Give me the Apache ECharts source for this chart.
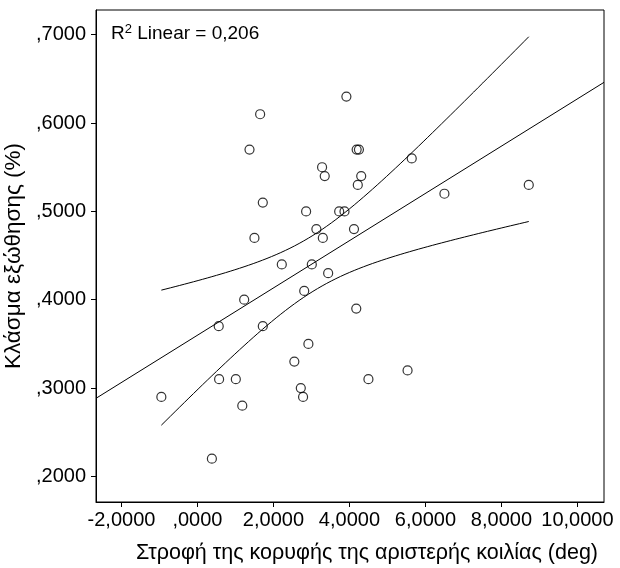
<!DOCTYPE html>
<html>
<head>
<meta charset="utf-8">
<script src="https://cdn.jsdelivr.net/npm/echarts@6/dist/echarts.min.js"></script>
<style>html,body{margin:0;padding:0;background:#fff}#c{width:620px;height:568px}</style>
</head>
<body>
<div id="c"></div>
<script>
// Data
const xValues = [1.65,1.37,3.28,1.72,2.86,3.13,1.50,2.22,3.01,2.81,3.92,4.19,4.25,3.35,4.31,4.22,5.64,8.72,6.50,3.73,3.87,4.12,3.30,3.44,1.23,0.56,1.72,2.92,2.55,0.57,1.01,-0.95,2.72,2.78,1.18,0.38,4.18,5.53,4.50];
const yValues = [0.61,0.57,0.55,0.51,0.50,0.48,0.47,0.44,0.44,0.41,0.63,0.57,0.57,0.54,0.54,0.53,0.56,0.53,0.52,0.50,0.50,0.48,0.47,0.43,0.40,0.37,0.37,0.35,0.33,0.31,0.31,0.29,0.30,0.29,0.28,0.22,0.39,0.32,0.31];
const xTicks = [-2,0,2,4,6,8,10];
const yTicks = [0.2,0.3,0.4,0.5,0.6,0.7];
const xRange = [-2.67, 10.7];
const yRange = [0.171, 0.728];
const r2Label = '0,206';
const tCrit = 2.026;

// Linear regression with 95% mean confidence band
const n = xValues.length;
const mx = xValues.reduce((a,b)=>a+b,0)/n;
const my = yValues.reduce((a,b)=>a+b,0)/n;
let sxx=0, sxy=0;
for (let i=0;i<n;i++){ sxx+=(xValues[i]-mx)**2; sxy+=(xValues[i]-mx)*(yValues[i]-my); }
const b1 = sxy/sxx, b0 = my-b1*mx;
let sse=0;
for (let i=0;i<n;i++){ const e=yValues[i]-(b0+b1*xValues[i]); sse+=e*e; }
const s = Math.sqrt(sse/(n-2));
const xmin = Math.min(...xValues), xmax = Math.max(...xValues);
const upper=[], lower=[];
const steps = 80;
for (let k=0;k<=steps;k++){
  const x = xmin + (xmax-xmin)*k/steps;
  const yh = b0+b1*x;
  const h = tCrit*s*Math.sqrt(1/n + (x-mx)**2/sxx);
  upper.push([x, yh+h]); lower.push([x, yh-h]);
}
const fitLine = [[xRange[0], b0+b1*xRange[0]], [xRange[1], b0+b1*xRange[1]]];

function fmt(v){
  let str = Math.abs(v).toFixed(4).replace('.', ',');
  if (str.startsWith('0,')) str = str.slice(1);
  return (v<0?'-':'') + str;
}

const font = 'Liberation Sans, Arial, sans-serif';
const chart = echarts.init(document.getElementById('c'), null, {renderer:'canvas'});
const lineStyle = {color:'#000', width:1};
chart.setOption({
  animation:false,
  backgroundColor:'#fff',
  grid:{left:96, right:16, top:10, bottom:66, show:true, borderColor:'#000', borderWidth:1, backgroundColor:'transparent', outerBoundsMode:'none', containLabel:false},
  xAxis:{
    type:'value', min:xRange[0], max:xRange[1],
    name:'Στροφή της κορυφής της αριστερής κοιλίας (deg)', nameLocation:'middle', nameGap:40,
    nameTextStyle:{fontFamily:font, fontSize:21.5, color:'#000', padding:[0,0,0,34]},
    axisLine:{show:true, onZero:false, lineStyle:{color:'#000', width:1}},
    axisTick:{show:true, length:5, customValues:xTicks, lineStyle:{color:'#000'}},
    axisLabel:{customValues:xTicks, formatter:fmt, fontFamily:font, fontSize:20, color:'#000', margin:8},
    splitLine:{show:false}
  },
  yAxis:{
    type:'value', min:yRange[0], max:yRange[1],
    name:'Κλάσμα εξώθησης (%)', nameLocation:'middle', nameGap:65, nameRotate:90,
    nameTextStyle:{fontFamily:font, fontSize:22.5, color:'#000'},
    axisLine:{show:true, onZero:false, lineStyle:{color:'#000', width:1}},
    axisTick:{show:true, length:5, customValues:yTicks, lineStyle:{color:'#000'}},
    axisLabel:{customValues:yTicks, formatter:fmt, fontFamily:font, fontSize:20, color:'#000', margin:10},
    splitLine:{show:false}
  },
  graphic:[{
    type:'text', left:111, top:23,
    style:{
      text:'{a|R}{b|2}{a| Linear = }{a|'+r2Label+'}',
      rich:{
        a:{fontFamily:font, fontSize:19, fill:'#000', lineHeight:22},
        b:{fontFamily:font, fontSize:13, fill:'#000', lineHeight:22, verticalAlign:'top', padding:[0,0,8,0]}
      }
    }
  }],
  series:[
    {type:'line', data:fitLine, showSymbol:false, silent:true, lineStyle:lineStyle, z:2},
    {type:'line', data:upper, showSymbol:false, silent:true, smooth:false, lineStyle:lineStyle, z:2},
    {type:'line', data:lower, showSymbol:false, silent:true, smooth:false, lineStyle:lineStyle, z:2},
    {type:'scatter', data:xValues.map((x,i)=>[x,yValues[i]]), symbol:'circle', symbolSize:9,
     itemStyle:{color:'rgba(0,0,0,0)', borderColor:'#000', borderWidth:1.2}, z:3}
  ]
});
</script>
</body>
</html>
